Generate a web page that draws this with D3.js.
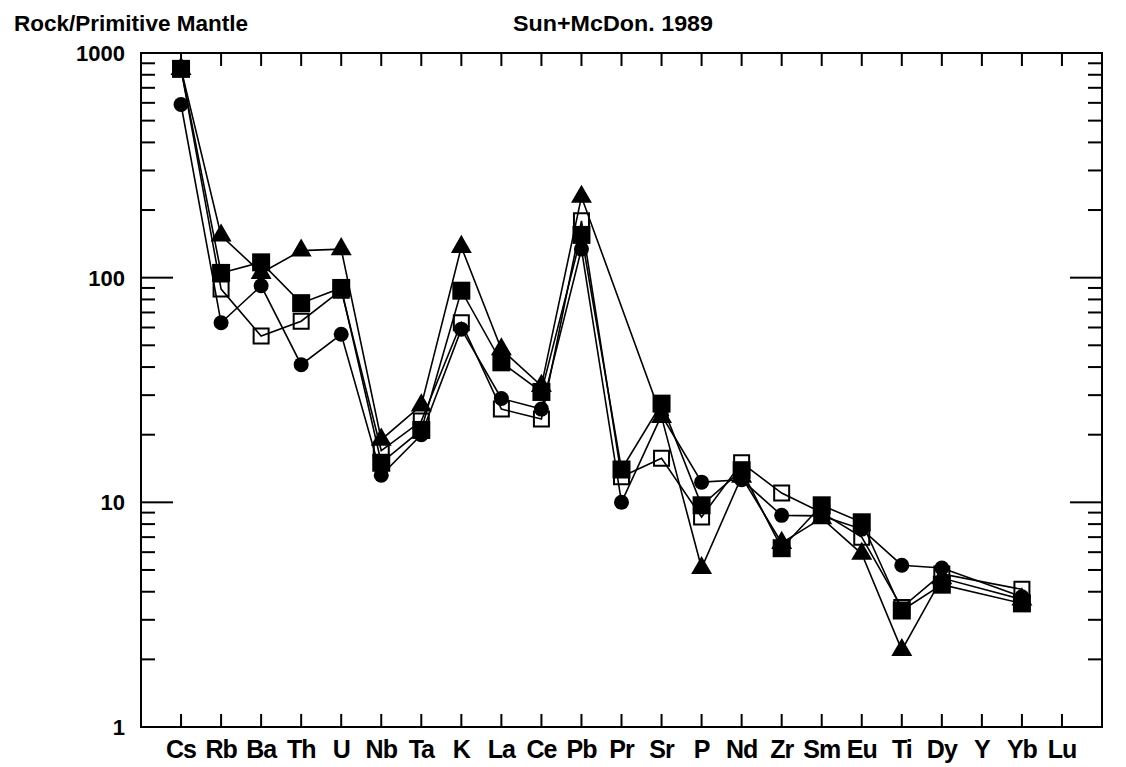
<!DOCTYPE html>
<html>
<head>
<meta charset="utf-8">
<script src="https://cdn.jsdelivr.net/npm/d3@7"></script>
<style>
  body { margin: 0; background: #fff; }
  text { font-family: "Liberation Sans Narrow", "Liberation Sans", Arial, sans-serif; font-weight: bold; fill: #000; }
</style>
</head>
<body>
<div id="chart"></div>
<script>
// Element order along the x axis
let elements = ["Cs","Rb","Ba","Th","U","Nb","Ta","K","La","Ce","Pb","Pr","Sr","P","Nd","Zr","Sm","Eu","Ti","Dy","Y","Yb","Lu"];

// Rock / primitive mantle values per sample (null = not analysed)
let circle_vals   = [590, 63, 92, 41, 56, 13.2, 20, 59, 29, 26, 134, 10, 24.4, 12.3, 12.6, 8.75, 8.7, 7.6, 5.25, 5.1, null, 3.8, null];
let square_vals   = [850, 105, 117, 77, 90, 15, 21, 87.5, 42, 31, 155, 14, 27.5, 9.7, 13.9, 6.25, 9.7, 8.15, 3.3, 4.3, null, 3.55, null];
let open_sq_vals  = [850, 89, 55, 64, 88, 17, 23, 63, 26, 23.5, 179, 13, 15.7, 8.6, 15, 11, 9.0, 7.0, 3.4, 4.8, null, 4.1, null];
let triangle_vals = [850, 154, 105, 132, 134, 19, 27, 137, 48, 33, 229, null, 24, 5.1, 13, 6.6, 8.5, 5.9, 2.2, 4.6, null, 3.7, null];

let y_ticks_major = [1, 10, 100, 1000];

let series = [
    {name: 'open', values: open_sq_vals},
    {name: 'circle', values: circle_vals},
    {name: 'triangle', values: triangle_vals},
    {name: 'square', values: square_vals}
];

//----------------------------------------
// SVG setup
let width = 1126,
    height = 767;

let svg = d3.select('#chart').append('svg')
    .attr('width', width)
    .attr('height', height);

let p_left = 141, p_right = 1102, p_top = 53, p_bottom = 727;

//----------------------------------------
// Scales
let x = d3.scaleLinear()
    .domain([-1, elements.length])
    .range([p_left, p_right]);

let y = d3.scaleLog()
    .domain([1, 1000])
    .range([p_bottom, p_top]);

//----------------------------------------
// Frame
svg.append('rect')
    .attr('x', p_left)
    .attr('y', p_top)
    .attr('width', p_right - p_left)
    .attr('height', p_bottom - p_top)
    .style('fill', 'none')
    .style('stroke', '#000')
    .style('stroke-width', 2);

// x ticks, top and bottom, pointing inward
elements.forEach(function(el, i) {
    svg.append('line')
        .attr('x1', x(i)).attr('x2', x(i))
        .attr('y1', p_top).attr('y2', p_top + 13)
        .style('stroke', '#000').style('stroke-width', 2);
    svg.append('line')
        .attr('x1', x(i)).attr('x2', x(i))
        .attr('y1', p_bottom).attr('y2', p_bottom - 13)
        .style('stroke', '#000').style('stroke-width', 2);
    svg.append('text')
        .attr('x', x(i))
        .attr('y', 758)
        .attr('text-anchor', 'middle')
        .style('font-size', '25px')
        .style('letter-spacing', '-1px')
        .text(el);
});

// y ticks, left and right
let minor = [];
for (let d = 1; d < 1000; d *= 10) {
    for (let k = 2; k <= 9; k++) minor.push(d * k);
}
minor.forEach(function(v) {
    svg.append('line')
        .attr('x1', p_left).attr('x2', p_left + 14)
        .attr('y1', y(v)).attr('y2', y(v))
        .style('stroke', '#000').style('stroke-width', 2);
    svg.append('line')
        .attr('x1', p_right).attr('x2', p_right - 14)
        .attr('y1', y(v)).attr('y2', y(v))
        .style('stroke', '#000').style('stroke-width', 2);
});
[10, 100].forEach(function(v) {
    svg.append('line')
        .attr('x1', p_left).attr('x2', p_left + 32)
        .attr('y1', y(v)).attr('y2', y(v))
        .style('stroke', '#000').style('stroke-width', 2);
    svg.append('line')
        .attr('x1', p_right).attr('x2', p_right - 32)
        .attr('y1', y(v)).attr('y2', y(v))
        .style('stroke', '#000').style('stroke-width', 2);
});

y_ticks_major.forEach(function(v) {
    svg.append('text')
        .attr('x', 125)
        .attr('y', y(v) + 8)
        .attr('text-anchor', 'end')
        .style('font-size', '22px')
        .style('font-family', '"Liberation Sans", Arial, sans-serif')
        .text(v);
});

//----------------------------------------
// Titles
svg.append('text')
    .attr('x', 14).attr('y', 31)
    .attr('textLength', 234)
    .attr('lengthAdjust', 'spacingAndGlyphs')
    .style('font-size', '22px')
    .text('Rock/Primitive Mantle');

svg.append('text')
    .attr('x', 513).attr('y', 31)
    .attr('textLength', 200)
    .attr('lengthAdjust', 'spacingAndGlyphs')
    .style('font-size', '22px')
    .text('Sun+McDon. 1989');

//----------------------------------------
// Lines (missing values skipped, neighbours joined)
let line_gen = d3.line()
    .x(function(d) { return x(d.i); })
    .y(function(d) { return y(d.v); });

series.forEach(function(s) {
    let pts = s.values
        .map(function(v, i) { return {i: i, v: v}; })
        .filter(function(d) { return d.v != null; });
    s.pts = pts;
    svg.append('path')
        .attr('d', line_gen(pts))
        .style('fill', 'none')
        .style('stroke', '#000')
        .style('stroke-width', 1.6);
});

//----------------------------------------
// Markers
let shapes = {
    open:     d3.symbol().type(d3.symbolSquare).size(15 * 15),
    circle:   d3.symbol().type(d3.symbolCircle).size(Math.PI * 7.5 * 7.5),
    triangle: d3.symbol().type(d3.symbolTriangle).size(190),
    square:   d3.symbol().type(d3.symbolSquare).size(18 * 18)
};

series.forEach(function(s) {
    svg.selectAll('.m-' + s.name)
        .data(s.pts)
        .enter()
        .append('path')
        .attr('class', 'm-' + s.name)
        .attr('d', shapes[s.name])
        .attr('transform', function(d) { return 'translate(' + x(d.i) + ',' + y(d.v) + ')'; })
        .style('fill', s.name === 'open' ? 'none' : '#000')
        .style('stroke', '#000')
        .style('stroke-width', s.name === 'open' ? 2 : 0);
});
</script>
</body>
</html>
